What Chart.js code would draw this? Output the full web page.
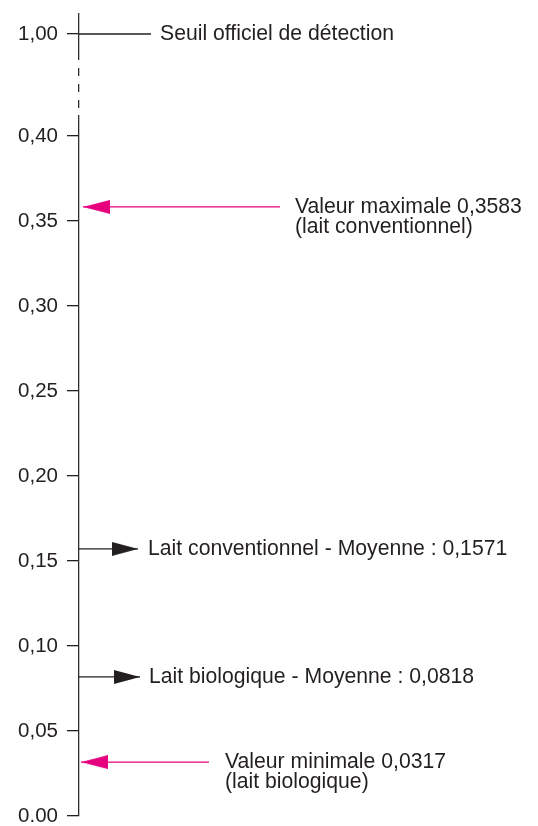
<!DOCTYPE html>
<html>
<head>
<meta charset="utf-8">
<script src="https://cdn.jsdelivr.net/npm/chart.js@4/dist/chart.umd.min.js"></script>
<style>
  html, body { margin: 0; padding: 0; background: #ffffff; }
  #wrap { position: relative; width: 538px; height: 826px; }
</style>
</head>
<body>
<div id="wrap"><canvas id="c"></canvas></div>
<script>
// ---------- DATA ----------
const tickLabels = ['0.00', '0,05', '0,10', '0,15', '0,20', '0,25', '0,30', '0,35', '0,40'];
const thresholdValue = 1.00;
const thresholdTickLabel = '1,00';
const thresholdLabel = 'Seuil officiel de détection';

const markerValues = [0.3583, 0.1571, 0.0818, 0.0317];
const markerKinds  = ['extreme', 'mean', 'mean', 'extreme'];
const markerLabels = [
  ['Valeur maximale 0,3583', '(lait conventionnel)'],
  ['Lait conventionnel - Moyenne : 0,1571'],
  ['Lait biologique - Moyenne : 0,0818'],
  ['Valeur minimale 0,0317', '(lait biologique)']
];

// ---------- LAYOUT / STYLE ----------
const W = 538, H = 826;
const AXIS_X = 79;           // x of the vertical axis
const TOP_Y = 13;            // top of axis
const BREAK_Y = 116;         // where the lower axis part starts
const BOTTOM_Y = 816;        // value 0
const PX_PER_UNIT = 1700;    // 0.05 -> 85 px
const THRESH_Y = 34;         // pixel of 1,00 within top part

const TEXT = '#231f20';
const AXIS = '#2e2e2e';
const PINK = '#e6007e';
const FONT = '"Liberation Sans", Arial, Helvetica, sans-serif';
const FONT_SIZE = 21.2;
const LINE_GAP = 20;

// horizontal geometry in px from the axis
const tipOffsets  = [4, 59, 61, 2];
const tailOffsets = [201, 0, 0, 130];
const textOffsets = [216, 69, 70, 146];
const thresholdLineEnd = 72;
const thresholdTextOffset = 81;
const breakDash = [47, 8, 8, 8, 8, 8, 8, 8];

function makeHead(color, len, h, dir) {
  const c = document.createElement('canvas');
  c.width = len * 2; c.height = h;
  const g = c.getContext('2d');
  g.fillStyle = color;
  g.beginPath();
  if (dir === 'left') { g.moveTo(len, h / 2); g.lineTo(2 * len, 0); g.lineTo(2 * len, h); }
  else { g.moveTo(len, h / 2); g.lineTo(0, 0); g.lineTo(0, h); }
  g.closePath(); g.fill();
  return c;
}
const pinkHead = makeHead(PINK, 27, 14, 'left');
const blackHead = makeHead(TEXT, 26, 14, 'right');

const datasets = [{
  label: thresholdLabel,
  yAxisID: 'yTop',
  data: [{ x: 0, y: thresholdValue }, { x: thresholdLineEnd, y: thresholdValue }],
  borderColor: TEXT, borderWidth: 1.3, pointRadius: 0, showLine: true
}];
markerValues.forEach((v, i) => {
  const extreme = markerKinds[i] === 'extreme';
  datasets.push({
    label: markerLabels[i].join(' '),
    yAxisID: 'y',
    data: [{ x: tailOffsets[i], y: v }, { x: tipOffsets[i], y: v }],
    borderColor: extreme ? PINK : TEXT,
    borderWidth: 1.3,
    showLine: true,
    pointRadius: [0, 6],
    pointStyle: extreme ? pinkHead : blackHead
  });
});

const textPlugin = {
  id: 'annotText',
  afterDatasetsDraw(chart) {
    const ctx = chart.ctx, left = chart.chartArea.left;
    ctx.save();
    // broken upper axis segment (solid, then dashes)
    const yt = chart.scales.yTop;
    const bx = chart.scales.y._borderValue !== undefined ? chart.scales.y._borderValue : left;
    ctx.strokeStyle = AXIS;
    ctx.lineWidth = 1.3;
    ctx.setLineDash(breakDash);
    ctx.beginPath();
    ctx.moveTo(bx, yt.top);
    ctx.lineTo(bx, yt.bottom);
    ctx.stroke();
    ctx.setLineDash([]);

    ctx.font = FONT_SIZE + 'px ' + FONT;
    ctx.fillStyle = TEXT;
    ctx.textBaseline = 'middle';
    ctx.textAlign = 'left';
    ctx.fillText(thresholdLabel, left + thresholdTextOffset, yt.getPixelForValue(thresholdValue));
    markerValues.forEach((v, i) => {
      const y = chart.scales.y.getPixelForValue(v);
      markerLabels[i].forEach((line, k) => ctx.fillText(line, left + textOffsets[i], y + k * LINE_GAP));
    });
    ctx.restore();
  }
};

const fixWidth = (scale) => { scale.width = AXIS_X; };
const mainMax = (BOTTOM_Y - BREAK_Y) / PX_PER_UNIT;
const topMax = thresholdValue + (THRESH_Y - TOP_Y) / PX_PER_UNIT;
const topMin = topMax - (BREAK_Y - TOP_Y) / PX_PER_UNIT;

const gridOpts = { display: true, drawOnChartArea: false, drawTicks: true, tickLength: 12, color: TEXT, lineWidth: 1.3 };
const tickFont = { family: FONT, size: 20.5, lineHeight: 0.02 };

new Chart(document.getElementById('c'), {
  type: 'scatter',
  data: { datasets },
  options: {
    responsive: true,
    maintainAspectRatio: false,
    animation: false,
    events: [],
    layout: { padding: { top: TOP_Y, bottom: H - BOTTOM_Y, left: 0, right: 0 }, autoPadding: false },
    plugins: { legend: { display: false }, tooltip: { enabled: false } },
    scales: {
      x: { type: 'linear', display: false, min: 0, max: W - AXIS_X },
      y: {
        type: 'linear', position: 'left', stack: 'v', stackWeight: BOTTOM_Y - BREAK_Y, weight: 0,
        min: 0, max: mainMax,
        border: { display: true, color: AXIS, width: 1.3 },
        grid: gridOpts,
        ticks: { stepSize: 0.05, includeBounds: false, padding: 9, color: TEXT, font: tickFont,
                 autoSkip: false, callback: (val, idx) => tickLabels[idx] },
        afterFit: fixWidth
      },
      yTop: {
        type: 'linear', position: 'left', stack: 'v', stackWeight: BREAK_Y - TOP_Y, weight: 1,
        min: topMin, max: topMax,
        border: { display: false },
        grid: gridOpts,
        ticks: { padding: 9, color: TEXT, font: tickFont, autoSkip: false, callback: () => thresholdTickLabel },
        afterBuildTicks: (s) => { s.ticks = [{ value: thresholdValue }]; },
        afterFit: fixWidth
      }
    }
  },
  plugins: [textPlugin]
});
</script>
</body>
</html>
